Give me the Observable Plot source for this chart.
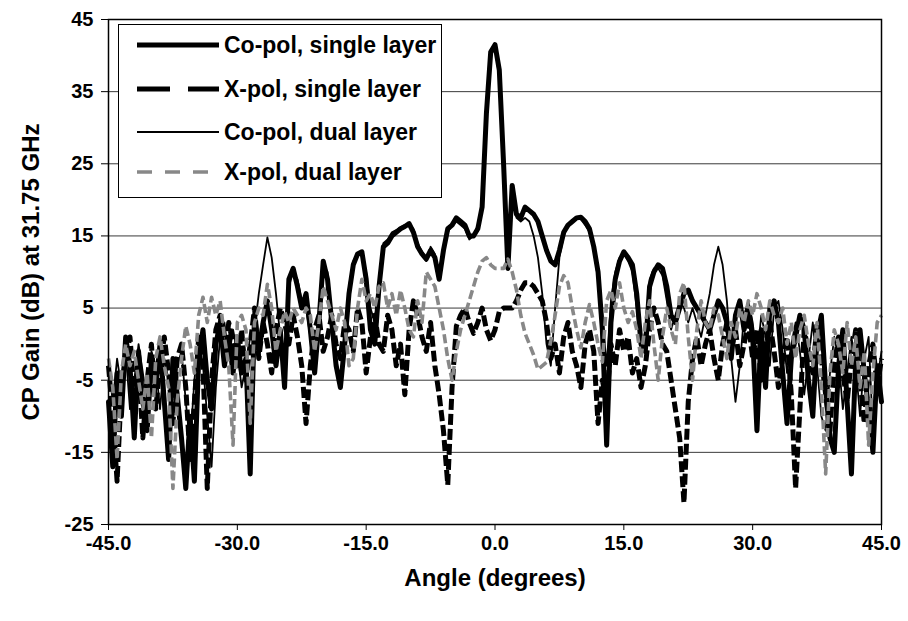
<!DOCTYPE html>
<html><head><meta charset="utf-8">
<script src="https://cdn.jsdelivr.net/npm/d3@7"></script>
<script src="https://cdn.jsdelivr.net/npm/@observablehq/plot@0.6"></script>
<style>
body{margin:0;background:#fff;font-family:"Liberation Sans",Arial,sans-serif;}
#wrap{position:relative;width:908px;height:621px;overflow:hidden;}
.ttl{position:absolute;font-weight:bold;color:#000;white-space:nowrap;font-size:24px;line-height:24px;}
#legend{position:absolute;left:118px;top:24px;width:324px;height:174px;border:1.5px solid #000;background:#fff;box-sizing:border-box;}
</style></head><body><div id="wrap"></div>
<script>
// sampling grid (degrees)
const angles = d3.range(-45, 45.001, 0.5);

const seriesNames = ["Co-pol, single layer", "X-pol, single layer", "Co-pol, dual layer", "X-pol, dual layer"];

// Co-pol, single layer (dB)
const coSingle = [
  -8, -17, -4, -10, 1, -3, -13, -1, -8, -12,
  -2, -6, 0, -8, -16, -2, -7, -13, -20, -10,
  -19, -2, 2, -5, -9, 0, 3, -3, 1, -4,
  1, -4, -2, -18, 4, -1, 3, 6, 2, -3,
  2, -6, 9, 10.5, 8, 5, 7, 2, -4, 3,
  11.5, 9, 3, -3, -6, 0, 7, 11, 12.5, 12.8,
  9, 2, 0, 8, 13.5, 14, 15, 15.5, 16, 16.3,
  16.7, 15.5, 13.5, 12.5, 11.8, 13, 12, 9, 13, 16,
  16.5, 17.5, 17, 16.5, 15, 15, 16, 19, 32, 40.5,
  41.5, 38, 25, 10.5, 22, 18, 17.5, 19, 18.5, 18,
  17, 15, 13, 11.5, 11, 13, 15.5, 16.5, 17, 17.5,
  17.6, 17, 16, 13.5, 10, 2, -14, 3, 9, 11.5,
  12.8, 12, 11, 7, 0, -1, 8, 10, 11, 10.5,
  8, 4, 3, 5, 7, 7.5, 6, 5, 4, 3,
  2, 4, 6, 5, 3, -2, 4, 6, 2, 5,
  1, -12, 2, -6, 5, 6, 3, -4, -11, -2,
  1, 4, 2, -5, -10, 1, 4, -6, -13, -15,
  -3, 2, -8, -18, -2, 2, -4, -9, -15, -3,
  -8
];

// X-pol, single layer (dB)
const xSingle = [
  -3, -10, -19, -6, -2, 1, -7, -3, -13, -5,
  0, -9, -3, 1, -4, -11, -2, 0, -6, -16,
  -8, 1, -3, -20, -5, 2, 4, -2, 3, 0,
  -3, 2, -5, 0, 5, -2, 3, 0, -4, 2,
  5, 3, 0, 4, 1, -3, -11, -3, 2, 4,
  -1, 1, 4, 0, -2, 3, 2, -1, 5, 3,
  -4, 1, 4, 0, -1, 4, 2, -3, 0, -7,
  2, 6, 4, 1, -1, 3, -3, -7, -12, -19.5,
  -6, 2.5, 4, 5, 3, 1.5, 3, 5, 2, 0.5,
  2, 4.5, 5, 5, 5, 6, 7.5, 8.5, 8.5, 8,
  7, 6, 3, -2, 0, -4, 1, 3, -1, -3,
  -6, 0, 2, -1, -11, -5, -8, 0, -3, 2,
  -1, 1, -4, -2, -6, -3, 2, 5, 3, 0,
  -1, -5, -9, -13, -22, -8, -2, 1, -3, 0,
  2, -2, -5, 0, 3, -1, 2, -3, 0, 3,
  -2, 2, -5, 0, 3, -1, -6, -2, 1, -7,
  -20, -9, 2, -1, -4, 3, -2, -7, -12, -3,
  1, -4, -8, -2, 2, -5, -11, -3, 0, -6,
  -2
];

// Co-pol, dual layer (dB)
const coDual = [
  -3, -8, -2, -6, -1, -9, -5, 0, -4, -8,
  -1, -3, -9, -2, -5, -11, -3, -1, -8, -14,
  -5, 1, -3, -10, -17, -6, 1, 3, -2, 2,
  -1, -6, -3, 1, 2, 7, 11, 14.8, 12, 7,
  1, -3, 8, 10, 9, 6, 5, 1, -3, 4,
  11, 10, 4, -2, -5, 1, 8, 11.5, 12.5, 12.5,
  10, 5, 3, 9, 14, 14.5, 15.5, 15.8, 16.2, 16.5,
  16.7, 16, 14, 12.8, 11.5, 13.5, 12.5, 9.5, 13.5, 15.5,
  16.5, 17, 16.5, 16, 14.5, 15, 16.5, 19, 31, 40,
  41, 37, 24, 12, 21, 17.5, 17, 17.5, 17, 15,
  12, 7, 0, -3, 5, 12, 15, 16.5, 17, 17.5,
  17.3, 16.5, 15.5, 13, 9, 4, -3, 6, 10, 12,
  12.5, 11.5, 10, 5, -1, 2, 9, 10.5, 10.5, 9.5,
  6, 2, 4, 6, 5, 3, 5, 3, 1, 4,
  7, 11, 13.5, 11, 6, -2, -8, -3, 4, 6,
  3, -2, 4, 1, -3, 5, 6, 2, -4, 0,
  3, -1, -7, -2, 3, -3, -10, -12, -4, 1,
  -2, -9, -4, 1, -3, -10, -2, 1, -12, -5,
  -1
];

// X-pol, dual layer (dB)
const xDual = [
  -2, -6, -16, -4, 0, -3, -1, -5, -9, -4,
  -13, -2, 1, -3, -6, -20, -8, -2, 2.5, 0,
  -4, 4, 6.5, 3, 6.5, 4, 6, 1, -3, -14,
  3, 4, 2, -11, 3, 5, 4, 8.3, 5, -1,
  2, 4.5, 3, 5, 4, 3, 5, 4, -1, 3,
  8, 6, 4, 2, 5, 3, -3, -2, 5, 9,
  6, 7, 5, 8, 8.5, 5, 7, 4, 7.5, 5,
  2, 1, 6, 3, 10, 9, 8, 5, 2, -2,
  -5, -1, 2, 4, 6, 8, 10, 11.5, 12, 11,
  10.5, 10.5, 10.5, 11.8, 10, 7.5, 4, 1.5, 0, -1.5,
  -3.5, -3, -2.5, 0.5, 4, 8, 9.5, 8.5, 5, 2,
  -0.5, 3, 5.5, 3, 0, -2.5, 6, 7.5, 5, 8.5,
  5, 3, 4.5, 2, -2, 3, 6, 0, -5, 1,
  5, 2, 0, 7, 8.5, 1, -5, 2, 6, 3,
  2, 5, 4, 1, -2, 3, 1, 5, 3, 6,
  4, 7, 5, 2, 6, 4, 3, 5, 0, 3,
  -2, 2, 4, 0, -3, 3, -6, -18, -4, 2,
  0, -4, 3, -3, 1, -6, -1, -14, -4, 3,
  4
];

const xTicks = [-45, -30, -15, 0, 15, 30, 45];
const yTicks = [-25, -15, -5, 5, 15, 25, 35, 45];

const styles = {
  "Co-pol, single layer": {stroke: "#000", strokeWidth: 5, dash: null, legendDash: null},
  "X-pol, single layer": {stroke: "#000", strokeWidth: 5, dash: "11,4", legendDash: "33,18"},
  "Co-pol, dual layer": {stroke: "#000", strokeWidth: 1.8, dash: null, legendDash: null},
  "X-pol, dual layer": {stroke: "#888888", strokeWidth: 3.6, dash: "9,4", legendDash: "15,13"}
};

const valueArrays = [coSingle, xSingle, coDual, xDual];
const rows = [];
seriesNames.forEach((name, i) => {
  valueArrays[i].forEach((v, j) => rows.push({series: name, angle: angles[j], gain: v}));
});

const lineMarks = seriesNames.map(name => Plot.line(rows.filter(d => d.series === name), {
  x: "angle", y: "gain",
  stroke: styles[name].stroke,
  strokeWidth: styles[name].strokeWidth,
  strokeDasharray: styles[name].dash,
  strokeLinejoin: "round",
  strokeLinecap: styles[name].dash ? "butt" : "round",
  curve: "linear"
}));

const chart = Plot.plot({
  width: 908, height: 621,
  marginLeft: 108, marginRight: 27, marginTop: 19, marginBottom: 97,
  style: {fontFamily: "Liberation Sans, Arial, sans-serif", fontSize: "20px", fontWeight: "bold", color: "#000", background: "#fff"},
  x: {domain: [-45, 45]},
  y: {domain: [-25, 45]},
  marks: [
    Plot.ruleY(yTicks, {stroke: "#3a3a3a", strokeWidth: 1}),
    ...lineMarks,
    Plot.frame({stroke: "#000", strokeWidth: 1.5}),
    Plot.axisX({ticks: xTicks, tickFormat: d => d.toFixed(1), tickSize: 6, tickPadding: 5, label: null, stroke: "#000"}),
    Plot.axisY({ticks: yTicks, tickFormat: d => String(d), tickSize: 7, tickPadding: 8, label: null, stroke: "#000"})
  ]
});

const wrap = document.getElementById("wrap");
wrap.appendChild(chart);

// axis titles
const xt = document.createElement("div");
xt.className = "ttl"; xt.textContent = "Angle (degrees)";
xt.style.left = "495px"; xt.style.top = "578px"; xt.style.transform = "translate(-50%,-50%)";
wrap.appendChild(xt);
const yt = document.createElement("div");
yt.className = "ttl"; yt.textContent = "CP Gain (dB) at 31.75 GHz";
yt.style.left = "31px"; yt.style.top = "272px"; yt.style.transform = "translate(-50%,-50%) rotate(-90deg)";
wrap.appendChild(yt);

// legend
const lg = document.createElement("div");
lg.id = "legend";
wrap.appendChild(lg);
const svg = d3.select(lg).append("svg").attr("width", 322).attr("height", 172).style("display", "block");
const rowY = [20, 64, 107, 147];
seriesNames.forEach((name, i) => {
  const s = styles[name];
  svg.append("line").attr("x1", 18).attr("x2", 100).attr("y1", rowY[i]).attr("y2", rowY[i])
    .attr("stroke", s.stroke).attr("stroke-width", s.strokeWidth)
    .attr("stroke-dasharray", s.legendDash);
  svg.append("text").attr("x", 105).attr("y", rowY[i]).attr("dy", "0.36em")
    .attr("font-family", "Liberation Sans, Arial, sans-serif").attr("font-weight", "bold")
    .attr("font-size", 23).text(name);
});
</script>
</body></html>
